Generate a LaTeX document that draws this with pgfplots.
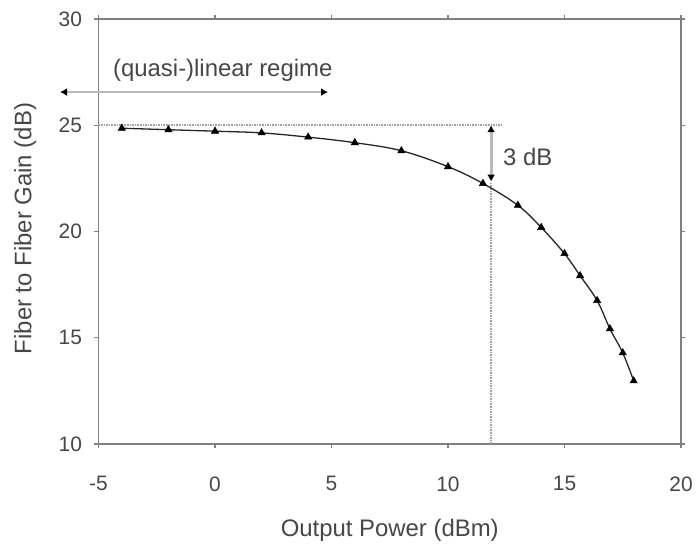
\documentclass[border=0pt]{standalone}
\usepackage{pgfplots}
\pgfplotsset{compat=1.18}
\usepackage{fontspec}
\setmainfont{Liberation Sans}
\usetikzlibrary{arrows.meta}
\definecolor{axisgray}{RGB}{128,128,128}
\definecolor{txt}{RGB}{70,70,70}
\begin{document}
\begin{tikzpicture}
\begin{axis}[
  scale only axis, width=582.5bp, height=425bp,
  xmin=-5, xmax=20, ymin=10, ymax=30,
  xtick={-5,0,5,10,15,20}, ytick={10,15,20,25,30},
  axis line style={axisgray, line width=1.4bp},
  tick style={axisgray, line width=1.2bp},
  tick align=outside, major tick length=4bp,
  /pgf/number format/assume math mode=true,
  ticklabel style={font=\fontsize{21}{24}\selectfont, text=txt},
  xticklabel style={yshift=-25bp},
  yticklabel style={xshift=-9bp},
  xlabel={Output Power (dBm)}, ylabel={Fiber to Fiber Gain (dB)},
  label style={font=\fontsize{24}{28}\selectfont, text=txt},
  xlabel style={at={(axis description cs:0.5,-0.202)}, anchor=center},
  ylabel style={at={(axis description cs:-0.126,0.507)}, anchor=center, rotate=0},
  clip=false,
]
% dotted guide lines
\addplot[axisgray!75, densely dotted, line width=1.6bp] coordinates {(-5,25) (12.3,25)};
\addplot[axisgray!75, densely dotted, line width=1.6bp] coordinates {(11.85,10) (11.85,22.3)};
% arrows
\addplot[gray!55, line width=2.8bp, {Latex[length=7bp,width=8bp,black]}-{Latex[length=7bp,width=8bp,black]}] coordinates {(-6.65,26.56) (4.85,26.56)};
\addplot[gray!55, line width=2.8bp, {Latex[length=7bp,width=8bp,black]}-{Latex[length=7bp,width=8bp,black]}] coordinates {(11.85,25) (11.85,22.35)};
% data
\addplot[gray!30!black, line width=1.3bp, smooth, tension=0.6, mark=triangle*, mark size=4.2bp, mark options={black, fill=black, line width=0.5bp}] coordinates {
(-4,24.86) (-2,24.79) (0,24.72) (2,24.64) (4,24.44) (6,24.18) (8,23.8) (10,23.05) (11.5,22.26) (13,21.23) (14,20.19) (15,18.96) (15.67,17.92) (16.4,16.75) (16.95,15.42) (17.5,14.29) (17.97,12.97)
};
\node[font=\fontsize{24}{28}\selectfont, text=txt, anchor=west, inner sep=0pt] at (axis cs:-4.38,27.6) {(quasi-)linear regime};
\node[font=\fontsize{24}{28}\selectfont, text=txt, anchor=west, inner sep=0pt] at (axis cs:12.36,23.5) {3 dB};
\end{axis}
\path[use as bounding box] ([xshift=-98.5bp,yshift=-100bp]current axis.south west) rectangle ([xshift=16bp,yshift=19bp]current axis.north east);
\end{tikzpicture}
\end{document}
